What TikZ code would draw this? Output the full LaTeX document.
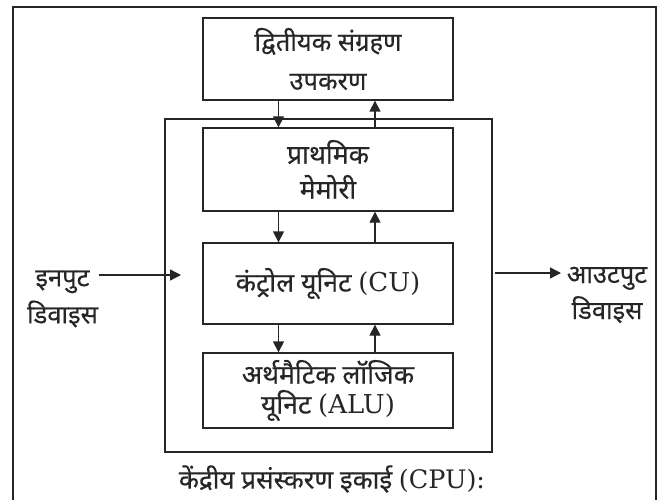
\documentclass[tikz,border=0pt]{standalone}
\usepackage{fontspec}
\setmainfont{DejaVu Serif}
\newfontfamily\deva[Script=Devanagari,FakeBold=0.4]{Noto Sans}
\newfontfamily\lat{DejaVu Serif}[Scale=0.98]
\usetikzlibrary{arrows.meta}
\colorlet{ink}{black!85}
\tikzset{
  box/.style={draw=ink, text=ink, line width=1.3pt, minimum width=250pt, inner sep=0pt, align=center},
  arr/.style={draw=ink, line width=1.3pt, -{Triangle[length=11pt,width=11pt]}},
  lbl/.style={text=ink, align=center, inner sep=0pt}
}
\begin{document}
\begin{tikzpicture}[x=1pt,y=-1pt]
\useasboundingbox (0,0) rectangle (667,500);
\coordinate (fbl) at (13,503);
\coordinate (ftl) at (13,7);
\coordinate (ftr) at (656,7);
\coordinate (fbr) at (656,503);
\draw[ink, line width=1.3pt] (fbl) -- (ftl) -- (ftr) -- (fbr);
\node[box, minimum height=82pt, font=\fontsize{25.5}{39}\selectfont] (sec) at (328,59) {\deva द्वितीयक संग्रहण\\\deva उपकरण};
\node[draw=ink, line width=1.3pt, minimum width=327pt, minimum height=333pt] (cpu) at (328.5,285.5) {};
\node[box, minimum height=83pt, font=\fontsize{26.5}{35}\selectfont] (prim) at (328,169.5) {\deva प्राथमिक\\\deva मेमोरी};
\node[box, minimum height=81pt, font=\fontsize{26.5}{30}\selectfont] (cu) at (328,283.5) {\deva कंट्रोल यूनिट \lat(CU)};
\node[box, minimum height=75pt, font=\fontsize{26.5}{30}\selectfont] (alu) at (328,390.5) {\deva अर्थमैटिक लॉजिक\\\deva यूनिट \lat(ALU)};
\coordinate (dl) at (278.5,0);
\coordinate (ul) at (375,0);
\draw[arr] (sec.south -| dl) -- (prim.north -| dl);
\draw[arr] (prim.north -| ul) -- (sec.south -| ul);
\draw[arr] (prim.south -| dl) -- (cu.north -| dl);
\draw[arr] (cu.north -| ul) -- (prim.south -| ul);
\draw[arr] (cu.south -| dl) -- (alu.north -| dl);
\draw[arr] (alu.north -| ul) -- (cu.south -| ul);
\node[lbl, font=\fontsize{25.5}{37}\selectfont] (in) at (62.5,299) {\deva इनपुट\\\deva डिवाइस};
\node[lbl, font=\fontsize{25.5}{36}\selectfont] (out) at (607,295) {\deva आउटपुट\\\deva डिवाइस};
\coordinate (inA) at (99,275);
\coordinate (inB) at (181,275);
\coordinate (outA) at (495,273);
\coordinate (outB) at (561,273);
\draw[arr] (inA) -- (inB);
\draw[arr] (outA) -- (outB);
\node[lbl, font=\fontsize{26}{36}\selectfont] (cap) at (332,479) {\deva केंद्रीय प्रसंस्करण इकाई \lat(CPU):};
\end{tikzpicture}
\end{document}
